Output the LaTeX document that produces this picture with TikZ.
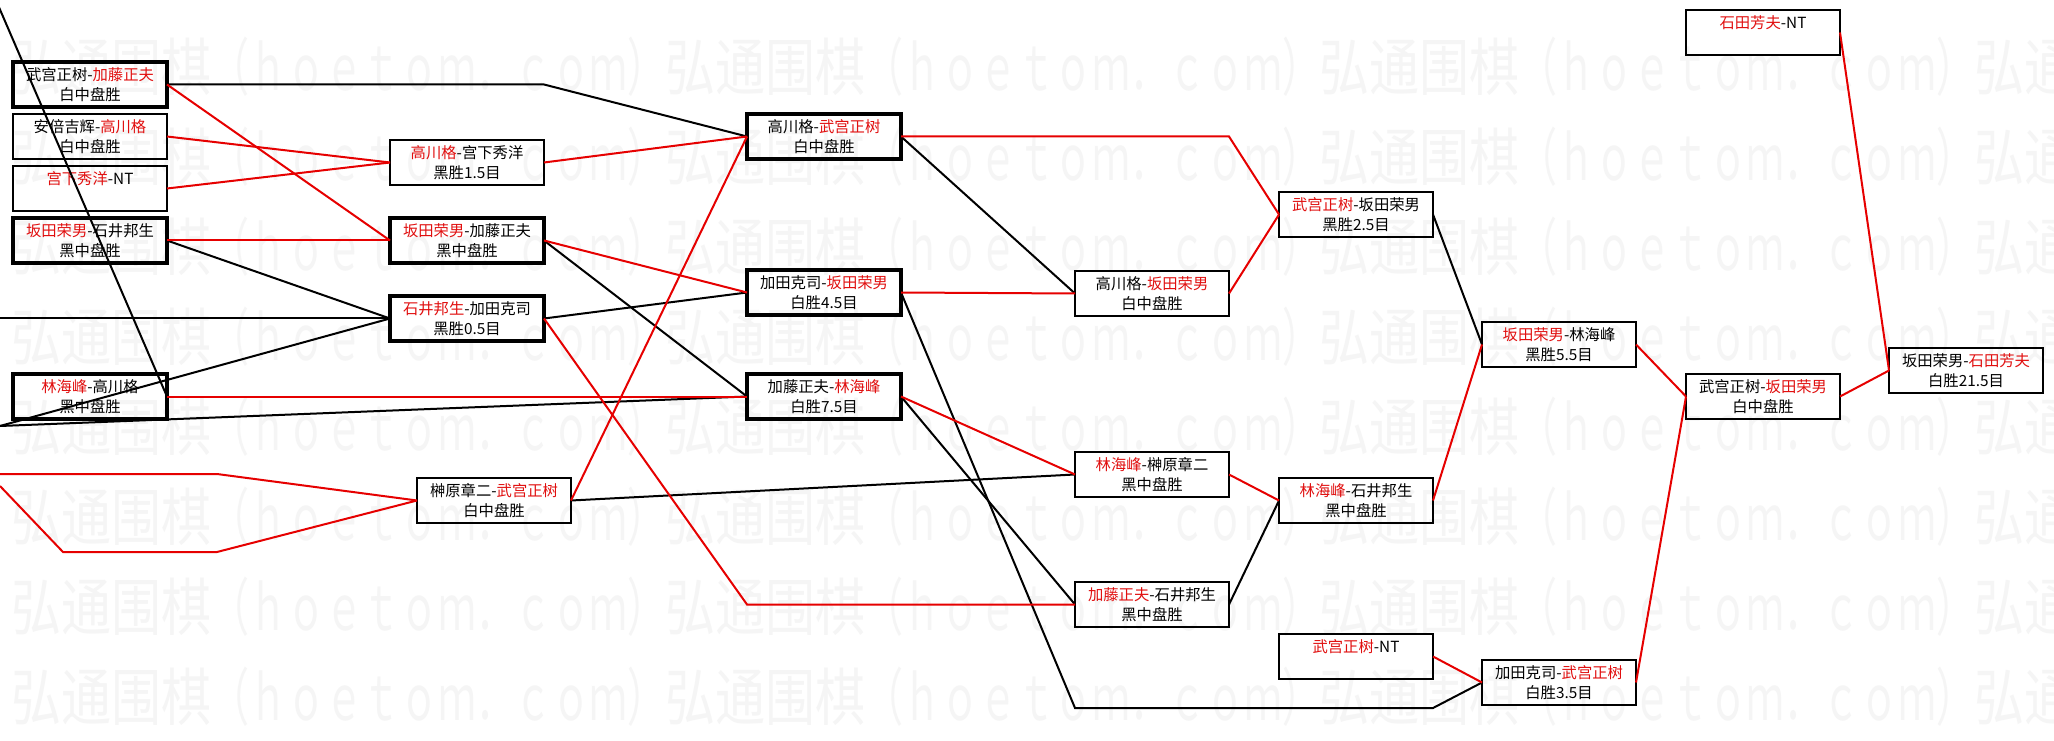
\documentclass[tikz,border=0pt]{standalone}
\usepackage{fontspec}
\usepackage{graphicx}
\setmainfont{Noto Sans CJK SC}
\definecolor{lred}{RGB}{230,0,0}
\definecolor{tred}{RGB}{225,15,15}
\definecolor{wmg}{RGB}{245,245,245}
\newcommand\rn[1]{\textcolor{tred}{#1}}
\newcommand\wmtext{弘通围棋\scalebox{0.757}[1]{（ｈｏｅｔｏｍ．ｃｏｍ）}}
\tikzset{
  bx/.style={draw, line width=1.6pt, minimum width=115.5pt, minimum height=33.75pt,
    inner sep=0pt, outer sep=0pt, anchor=north west, align=center,
    font=\fontsize{11.5}{15}\selectfont},
  bxk/.style={bx, line width=2.4pt},
  kl/.style={draw=black, line width=1.5pt},
  rl/.style={draw=lred, line width=1.5pt},
  wm/.style={text=wmg, inner sep=0pt, anchor=west, font=\fontsize{37.5}{40}\selectfont}
}
\begin{document}
\begin{tikzpicture}[x=0.75pt,y=-0.75pt]
\useasboundingbox[fill=white] (0,0) rectangle (2054,741);
% watermark
\foreach \r in {0,...,7} {
  \node[wm] (wm\r) at (-643, 67+90*\r) {\scalebox{1}[1.25]{\wmtext\wmtext\wmtext\wmtext\wmtext}};
}
% column 1
\node[bxk] (a1) at (13,62) {武宫正树-\rn{加藤正夫}\\白中盘胜};
\node[bx]  (a2) at (13,114) {安倍吉辉-\rn{高川格}\\白中盘胜};
\node[bx]  (a3) at (13,166) {\rn{宫下秀洋}-NT\\\mbox{}};
\node[bxk] (a4) at (13,218) {\rn{坂田荣男}-石井邦生\\黑中盘胜};
\node[bxk] (a5) at (13,374) {\rn{林海峰}-高川格\\黑中盘胜};
% column 2
\node[bx]  (b1) at (390,140) {\rn{高川格}-宫下秀洋\\黑胜1.5目};
\node[bxk] (b2) at (390,218) {\rn{坂田荣男}-加藤正夫\\黑中盘胜};
\node[bxk] (b3) at (390,296) {\rn{石井邦生}-加田克司\\黑胜0.5目};
\node[bx]  (b4) at (417,478) {榊原章二-\rn{武宫正树}\\白中盘胜};
% column 3
\node[bxk] (c1) at (747,114) {高川格-\rn{武宫正树}\\白中盘胜};
\node[bxk] (c2) at (747,270) {加田克司-\rn{坂田荣男}\\白胜4.5目};
\node[bxk] (c3) at (747,374) {加藤正夫-\rn{林海峰}\\白胜7.5目};
% column 4
\node[bx] (d1) at (1075,271) {高川格-\rn{坂田荣男}\\白中盘胜};
\node[bx] (d2) at (1075,452) {\rn{林海峰}-榊原章二\\黑中盘胜};
\node[bx] (d3) at (1075,582) {\rn{加藤正夫}-石井邦生\\黑中盘胜};
% column 5
\node[bx] (e1) at (1279,192) {\rn{武宫正树}-坂田荣男\\黑胜2.5目};
\node[bx] (e2) at (1279,478) {\rn{林海峰}-石井邦生\\黑中盘胜};
\node[bx] (e3) at (1279,634) {\rn{武宫正树}-NT\\\mbox{}};
% column 6
\node[bx] (f1) at (1482,322) {\rn{坂田荣男}-林海峰\\黑胜5.5目};
\node[bx] (f2) at (1482,660) {加田克司-\rn{武宫正树}\\白胜3.5目};
% column 7
\node[bx] (g1) at (1686,10) {\rn{石田芳夫}-NT\\\mbox{}};
\node[bx] (g2) at (1686,374) {武宫正树-\rn{坂田荣男}\\白中盘胜};
% column 8
\node[bx] (h1) at (1889,348) {坂田荣男-\rn{石田芳夫}\\白胜21.5目};
% free ends and bends
\coordinate (s0) at (-5,-2);
\coordinate (s1) at (0,318.5);
\coordinate (s2) at (0,426);
\coordinate (s3) at (0,474);
\coordinate (s4) at (0,486);
\coordinate (j1) at (217,474);
\coordinate (j2) at (63,552);
\coordinate (j3) at (217,552);
\coordinate (k1) at (1075,708);
\coordinate (k2) at (1433,708);
% black connectors
\draw[kl] (s0) -- (a5.east);
\draw[kl] (a1.east) -- (a1.east -| b1.east) -- (c1.west);
\draw[kl] (a4.east) -- (b3.west);
\draw[kl] (s1) -- (b3.west);
\draw[kl] (s2) -- (b3.west);
\draw[kl] (s2) -- (c3.west);
\draw[kl] (b2.east) -- (c3.west);
\draw[kl] (b3.east) -- (c2.west);
\draw[kl] (b4.east) -- (d2.west);
\draw[kl] (c1.east) -- (d1.west);
\draw[kl] (c2.east) -- (k1) -- (k2) -- (f2.west);
\draw[kl] (c3.east) -- (d3.west);
\draw[kl] (d3.east) -- (e2.west);
\draw[kl] (e1.east) -- (f1.west);
% red connectors
\draw[rl] (a1.east) -- (b2.west);
\draw[rl] (a2.east) -- (b1.west);
\draw[rl] (a3.east) -- (b1.west);
\draw[rl] (a4.east) -- (b2.west);
\draw[rl] (a5.east) -- (c3.west);
\draw[rl] (s3) -- (j1) -- (b4.west);
\draw[rl] (s4) -- (j2) -- (j3) -- (b4.west);
\draw[rl] (b1.east) -- (c1.west);
\draw[rl] (b2.east) -- (c2.west);
\draw[rl] (b3.east) -- (c1.west |- d3.west) -- (d3.west);
\draw[rl] (b4.east) -- (c1.west);
\draw[rl] (c1.east) -- (c1.east -| d1.east) -- (e1.west);
\draw[rl] (c2.east) -- (d1.west);
\draw[rl] (c3.east) -- (d2.west);
\draw[rl] (d1.east) -- (e1.west);
\draw[rl] (d2.east) -- (e2.west);
\draw[rl] (e2.east) -- (f1.west);
\draw[rl] (e3.east) -- (f2.west);
\draw[rl] (f1.east) -- (g2.west);
\draw[rl] (f2.east) -- (g2.west);
\draw[rl] (g1.east) -- (h1.west);
\draw[rl] (g2.east) -- (h1.west);
\end{tikzpicture}
\end{document}
